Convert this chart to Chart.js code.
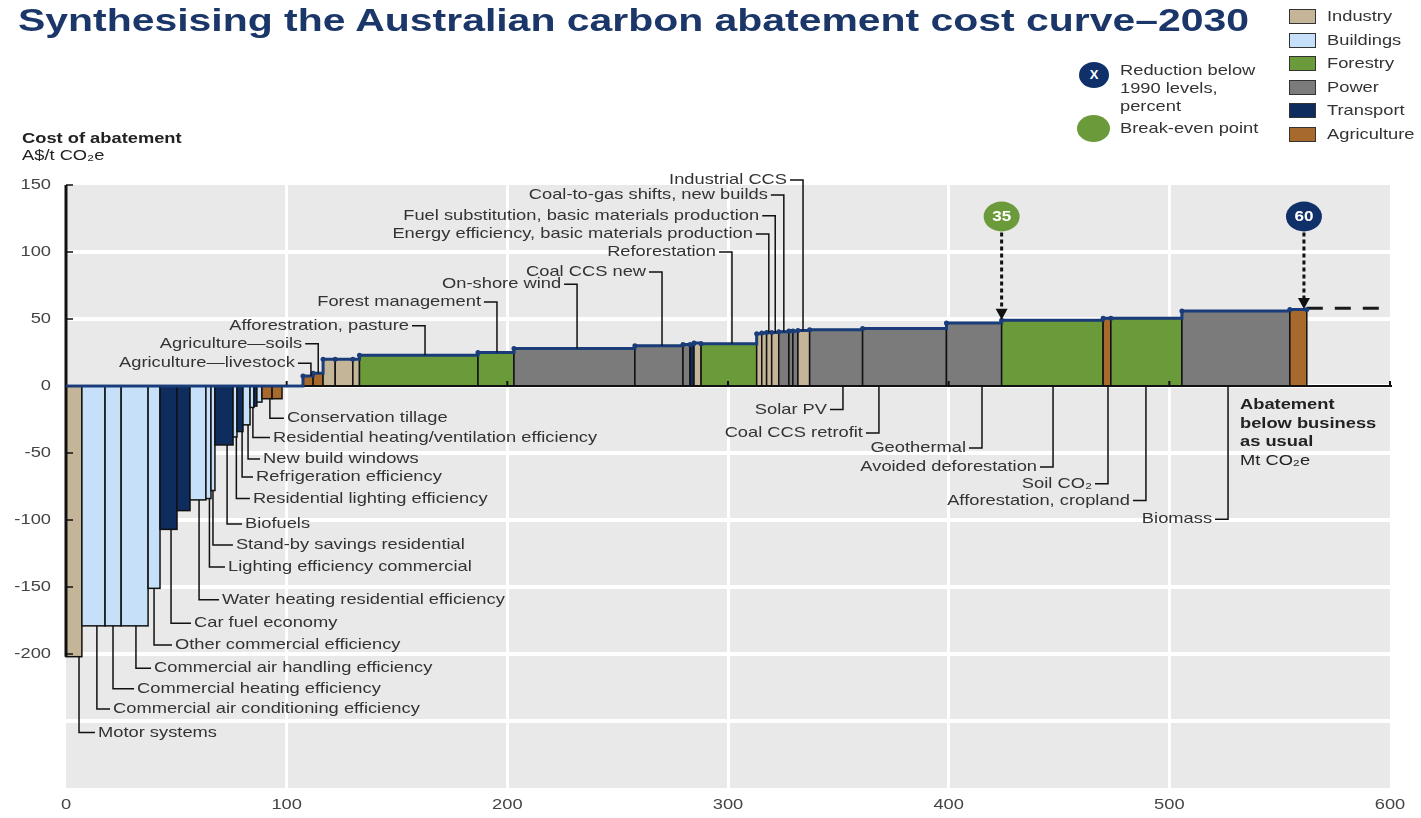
<!DOCTYPE html>
<html>
<head>
<meta charset="utf-8">
<script src="https://cdn.jsdelivr.net/npm/chart.js@4.4.0/dist/chart.umd.min.js"></script>
<style>
  body { margin: 0; background: #fff; font-family: "Liberation Sans", Arial, sans-serif; }
  #page { position: relative; width: 1421px; height: 818px; overflow: hidden; }
  canvas { position: absolute; left: 0; top: 0; }
  .sx { position: absolute; white-space: nowrap; transform-origin: 0 0; transform: scaleX(1.22); }
  #title { left: 18px; top: 4px; font-size: 31px; line-height: 34px; font-weight: bold; color: #1b3668; transform: scaleX(1.32); }
  .txt { font-size: 15px; line-height: 18px; color: #333; }
  .box { position: absolute; width: 25px; height: 13px; border: 1px solid #333; }
  .dot { position: absolute; border-radius: 50%; color: #fff; font-weight: bold; font-size: 13px; text-align: center; }
</style>
</head>
<body>
<div id="page">
  <canvas id="chart" width="1421" height="818"></canvas>
  <div id="title" class="sx">Synthesising the Australian carbon abatement cost curve–2030</div>

  <div class="sx txt" style="left:22px;top:129px;font-weight:bold;color:#222">Cost of abatement</div>
  <div class="sx txt" style="left:22px;top:146px;color:#222">A$/t CO₂e</div>

  <div class="dot" style="left:1079px;top:62px;width:30px;height:26px;line-height:26px;background:#10306a">X</div>
  <div class="sx txt" style="left:1120px;top:61px">Reduction below</div>
  <div class="sx txt" style="left:1120px;top:79px">1990 levels,</div>
  <div class="sx txt" style="left:1120px;top:97px">percent</div>
  <div class="dot" style="left:1077px;top:115px;width:33px;height:27px;background:#6b9a3a"></div>
  <div class="sx txt" style="left:1120px;top:119px">Break-even point</div>

  <div id="legend"></div>

  <div class="sx txt" style="left:1240px;top:395px;line-height:18.5px;color:#222">
    <b>Abatement</b><br><b>below business</b><br><b>as usual</b><br>Mt CO₂e
  </div>
</div>

<script>
// sectors and their fills
const sectorNames = ['Industry', 'Buildings', 'Forestry', 'Power', 'Transport', 'Agriculture']
const sectorColors = ['#c4b498', '#c5e0f8', '#6b9a3a', '#7b7b7b', '#0f2c5e', '#a86a2c']

// measures in curve order (blank = unlabelled)
const measures = [
  'Motor systems', 'Commercial air conditioning efficiency', 'Commercial heating efficiency',
  'Commercial air handling efficiency', 'Other commercial efficiency', 'Car fuel economy', '',
  'Water heating residential efficiency', 'Lighting efficiency commercial', 'Stand-by savings residential',
  'Biofuels', 'Residential lighting efficiency', 'Refrigeration efficiency', 'New build windows',
  'Residential heating/ventilation efficiency', '', '', 'Conservation tillage', '', '',
  'Agriculture—livestock', 'Agriculture—soils', '', '', '', 'Afforestration, pasture',
  'Forest management', 'On-shore wind', 'Coal CCS new', '', '', '', 'Reforestation', '', '',
  'Energy efficiency, basic materials production', 'Fuel substitution, basic materials production',
  'Coal-to-gas shifts, new builds', '', '', 'Industrial CCS', 'Solar PV', 'Coal CCS retrofit',
  'Geothermal', 'Avoided deforestation', 'Soil CO₂', 'Afforestation, cropland', 'Biomass', ''
]
// abatement volume, Mt CO2e
const widths = [
  7.2, 10.5, 7.3, 12.2, 5.4, 7.7, 5.9,
  7.2, 2.3, 1.8,
  8.2, 1.8, 2.7, 3.2,
  1.8, 1.3, 2.3, 4.6, 4.5, 9.5,
  4.6, 4.5, 5.5, 8, 3, 53.7,
  16.3, 54.8, 21.8, 3.2, 1.8, 3.2, 25.2, 2.3, 2.2,
  2.3, 3.2,
  4.6, 1.8, 2.3, 5.3, 24, 38,
  25, 46, 3.5, 32.2, 48.9, 7.7
]
// cost of abatement, A$/t CO2e
const costs = [
  -202, -179, -179, -179, -151, -107, -93,
  -85, -84, -78,
  -44, -38, -34, -29,
  -16, -15, -12, -9.5, -9.5, 0,
  7.5, 9.5, 20, 20, 20, 23,
  25, 28, 30, 31, 31, 32, 31.5, 39, 39.5,
  40, 40,
  40.5, 41, 41, 41.5, 42, 43,
  47, 49, 50.5, 50.5, 56, 57
]
// index into sectorNames
const sectors = [
  0, 1, 1, 1, 1, 4, 4,
  1, 1, 1,
  4, 1, 4, 1,
  1, 4, 1, 5, 5, 0,
  5, 5, 0, 0, 0, 2,
  2, 3, 3, 3, 4, 0, 2, 0, 0,
  0, 0,
  3, 3, 3, 0, 3, 3,
  3, 2, 5, 2, 3, 5
]

const yTicks = [150, 100, 50, 0, -50, -100, -150, -200]
const xTicks = [0, 100, 200, 300, 400, 500, 600]

// dashed continuation beyond the last measure
const extensionX = [562.3, 597]
const extensionY = [58, 58]

// markers: reduction below 1990 levels
const markerLabels = ['35', '60']
const markerX = [424, 561]
const markerTipY = [49.5, 57.5]
const markerColors = ['#6b9a3a', '#10306a']

// callouts: [text, leader x, text y, text x (left labels only)]
const calloutsAbove = [
  ['Agriculture—livestock', 111, 17],
  ['Agriculture—soils', 114.3, 31.5],
  ['Afforestration, pasture', 162.7, 45],
  ['Forest management', 195.3, 62.7],
  ['On-shore wind', 231.6, 76],
  ['Coal CCS new', 270.1, 85],
  ['Reforestation', 301.8, 100],
  ['Energy efficiency, basic materials production', 318.5, 113.4],
  ['Fuel substitution, basic materials production', 321.4, 127],
  ['Coal-to-gas shifts, new builds', 325.3, 142.5],
  ['Industrial CCS', 334, 153.7]
]
const calloutsBelowLeft = [
  ['Conservation tillage', 92.4, -24, 100.1],
  ['Residential heating/ventilation efficiency', 84.7, -38.5, 93.8],
  ['New build windows', 82.5, -54.5, 89.3],
  ['Refrigeration efficiency', 79.8, -68, 86.1],
  ['Residential lighting efficiency', 77.2, -84, 84.7],
  ['Biofuels', 73, -103, 81.1],
  ['Stand-by savings residential', 66.6, -118.7, 77],
  ['Lighting efficiency commercial', 65, -135, 73.4],
  ['Water heating residential efficiency', 60.3, -159.5, 70.7],
  ['Car fuel economy', 47.6, -177, 58],
  ['Other commercial efficiency', 39.9, -193.3, 49.4],
  ['Commercial air handling efficiency', 31.7, -210.6, 39.9],
  ['Commercial heating efficiency', 21.3, -226, 32.2],
  ['Commercial air conditioning efficiency', 14, -241, 21.3],
  ['Motor systems', 5.9, -258.5, 14.5]
]
const calloutsBelowRight = [
  ['Solar PV', 352.1, -17.5],
  ['Coal CCS retrofit', 368.4, -35],
  ['Geothermal', 415.1, -46.3],
  ['Avoided deforestation', 447.3, -60.5],
  ['Soil CO₂', 472.2, -73],
  ['Afforestation, cropland', 489.4, -85.5],
  ['Biomass', 526.6, -99.5]
]

const starts = []
let total = 0
widths.forEach(w => { starts.push(total); total += w })

const curvePoints = starts.map((s, i) => ({ x: s, y: Math.max(costs[i], 0) }))
curvePoints.push({ x: total, y: Math.max(costs[costs.length - 1], 0) })
const extensionPoints = extensionX.map((v, i) => ({ x: v, y: extensionY[i] }))

// legend boxes
const legendEl = document.getElementById('legend')
sectorNames.forEach((name, i) => {
  const top = 9 + i * 23.6
  legendEl.insertAdjacentHTML('beforeend',
    `<div class="box" style="left:1289px;top:${top}px;background:${sectorColors[i]}"></div>` +
    `<div class="sx txt" style="left:1327px;top:${top - 2}px">${name}</div>`)
})

const SX = 1.22
const FONT = '15px "Liberation Sans", Arial, sans-serif'

function stretchedText(ctx, text, px, py, align) {
  const w = ctx.measureText(text).width * SX
  let left = px
  if (align === 'right') left = px - w
  if (align === 'center') left = px - w / 2
  ctx.save()
  ctx.translate(left, py)
  ctx.scale(SX, 1)
  ctx.textAlign = 'left'
  ctx.fillText(text, 0, 0)
  ctx.restore()
}

const costCurve = {
  id: 'costCurve',
  beforeDraw(chart) {
    const { ctx, chartArea: a } = chart
    ctx.save()
    ctx.fillStyle = '#e9e9e9'
    ctx.fillRect(a.left, a.top, a.right - a.left, a.bottom - a.top)
    ctx.restore()
  },
  beforeDatasetsDraw(chart) {
    const { ctx, scales: { x, y } } = chart
    ctx.save()
    // bars
    ctx.lineWidth = 1.5
    ctx.strokeStyle = '#111'
    const y0 = y.getPixelForValue(0)
    measures.forEach((m, i) => {
      if (costs[i] === 0) return
      const x0 = x.getPixelForValue(starts[i])
      const x1 = x.getPixelForValue(starts[i] + widths[i])
      const y1 = y.getPixelForValue(costs[i])
      ctx.fillStyle = sectorColors[sectors[i]]
      ctx.fillRect(x0, Math.min(y0, y1), x1 - x0, Math.abs(y1 - y0))
      ctx.strokeRect(x0, Math.min(y0, y1), x1 - x0, Math.abs(y1 - y0))
    })
    // axes
    ctx.strokeStyle = '#111'
    ctx.lineWidth = 2
    ctx.beginPath()
    ctx.moveTo(x.getPixelForValue(0), y0)
    ctx.lineTo(x.getPixelForValue(600) + 2, y0)
    xTicks.slice(1).forEach(v => {
      const px = x.getPixelForValue(v)
      ctx.moveTo(px, y0)
      ctx.lineTo(px, y0 - 5)
    })
    ctx.stroke()
    ctx.lineWidth = 3
    ctx.beginPath()
    const ax = x.getPixelForValue(0)
    ctx.moveTo(ax, y.getPixelForValue(150))
    ctx.lineTo(ax, y.getPixelForValue(-202))
    ctx.stroke()
    ctx.lineWidth = 1.5
    ctx.beginPath()
    yTicks.forEach(v => {
      const py = y.getPixelForValue(v)
      ctx.moveTo(ax, py)
      ctx.lineTo(ax + 7, py)
    })
    ctx.stroke()
    ctx.restore()
  },
  afterDatasetsDraw(chart) {
    const { ctx, scales: { x, y } } = chart
    ctx.save()
    ctx.font = FONT
    ctx.textBaseline = 'middle'

    // tick labels
    ctx.fillStyle = '#444'
    yTicks.forEach(v => stretchedText(ctx, String(v), x.getPixelForValue(0) - 15, y.getPixelForValue(v), 'right'))
    xTicks.forEach(v => stretchedText(ctx, String(v), x.getPixelForValue(v), 805, 'center'))

    // callouts
    ctx.fillStyle = '#333'
    ctx.strokeStyle = '#111'
    ctx.lineWidth = 1.5
    const costAt = name => costs[measures.indexOf(name)]
    calloutsAbove.forEach(([text, at, ty]) => {
      const lx = x.getPixelForValue(at)
      const py = y.getPixelForValue(ty)
      ctx.beginPath()
      ctx.moveTo(lx - 13, py)
      ctx.lineTo(lx, py)
      ctx.lineTo(lx, y.getPixelForValue(costAt(text)))
      ctx.stroke()
      stretchedText(ctx, text, lx - 16, py, 'right')
    })
    calloutsBelowLeft.forEach(([text, at, ty, tx]) => {
      const lx = x.getPixelForValue(at)
      const py = y.getPixelForValue(ty)
      const txp = x.getPixelForValue(tx)
      ctx.beginPath()
      ctx.moveTo(lx, y.getPixelForValue(costAt(text)))
      ctx.lineTo(lx, py)
      ctx.lineTo(txp - 3, py)
      ctx.stroke()
      stretchedText(ctx, text, txp, py, 'left')
    })
    calloutsBelowRight.forEach(([text, at, ty]) => {
      const lx = x.getPixelForValue(at)
      const py = y.getPixelForValue(ty)
      ctx.beginPath()
      ctx.moveTo(lx, y.getPixelForValue(0))
      ctx.lineTo(lx, py)
      ctx.lineTo(lx - 13, py)
      ctx.stroke()
      stretchedText(ctx, text, lx - 16, py, 'right')
    })

    // reduction markers with dashed arrows
    markerLabels.forEach((label, i) => {
      const cx = x.getPixelForValue(markerX[i])
      const cy = y.getPixelForValue(126.5)
      const tip = y.getPixelForValue(markerTipY[i])
      ctx.strokeStyle = '#111'
      ctx.lineWidth = 3
      ctx.setLineDash([4, 3])
      ctx.beginPath()
      ctx.moveTo(cx, cy + 16)
      ctx.lineTo(cx, tip - 9)
      ctx.stroke()
      ctx.setLineDash([])
      ctx.fillStyle = '#111'
      ctx.beginPath()
      ctx.moveTo(cx - 6, tip - 11)
      ctx.lineTo(cx + 6, tip - 11)
      ctx.lineTo(cx, tip)
      ctx.closePath()
      ctx.fill()
      ctx.fillStyle = markerColors[i]
      ctx.beginPath()
      ctx.ellipse(cx, cy, 18, 15, 0, 0, Math.PI * 2)
      ctx.fill()
      ctx.fillStyle = '#fff'
      ctx.font = 'bold 14px "Liberation Sans", Arial, sans-serif'
      stretchedText(ctx, label, cx, cy + 1, 'center')
      ctx.font = FONT
    })
    ctx.restore()
  }
}

new Chart(document.getElementById('chart'), {
  type: 'line',
  data: {
    datasets: [{
      data: curvePoints,
      stepped: true,
      borderColor: '#1a3c78',
      borderWidth: 3,
      pointRadius: c => (c.raw && c.raw.y > 0 ? 2.5 : 0),
      pointBackgroundColor: '#1a3c78',
      pointBorderWidth: 0,
      fill: false
    }, {
      data: extensionPoints,
      borderColor: '#1a1a1a',
      borderWidth: 3,
      borderDash: [16, 12],
      pointRadius: 0,
      fill: false
    }]
  },
  options: {
    responsive: false,
    animation: false,
    devicePixelRatio: 1,
    layout: { padding: { left: 66, right: 31, top: 185, bottom: 30 } },
    plugins: {
      legend: { display: false },
      tooltip: { enabled: false }
    },
    scales: {
      x: {
        type: 'linear',
        min: 0,
        max: 600,
        ticks: { display: false, stepSize: 100 },
        grid: {
          color: c => (c.tick && (c.tick.value === 0 || c.tick.value === 600) ? 'rgba(0,0,0,0)' : '#fff'),
          lineWidth: 3,
          drawTicks: false
        },
        border: { display: false },
        afterFit: s => { s.height = 0 }
      },
      y: {
        type: 'linear',
        min: -300,
        max: 150,
        ticks: { display: false, stepSize: 50 },
        grid: {
          color: c => (c.tick && (c.tick.value === 150 || c.tick.value === -300) ? 'rgba(0,0,0,0)' : '#fff'),
          lineWidth: 4,
          drawTicks: false
        },
        border: { display: false },
        afterFit: s => { s.width = 0 }
      }
    }
  },
  plugins: [costCurve]
})
</script>
</body>
</html>
